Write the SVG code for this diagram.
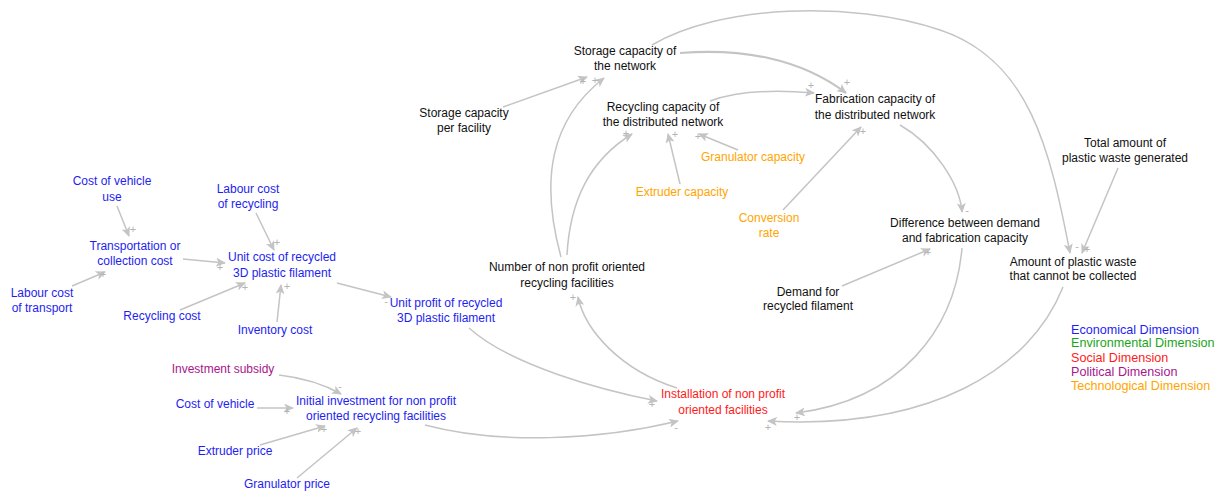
<svg xmlns="http://www.w3.org/2000/svg" width="1223" height="493" viewBox="0 0 1223 493">
<defs>
<marker id="ah" markerUnits="userSpaceOnUse" markerWidth="11" markerHeight="9" refX="9" refY="4.5" orient="auto">
<path d="M0,0 L10,4.5 L0,9 L2.5,4.5 z" fill="#c4c4c4"/>
</marker>
<style>
text{font-family:"Liberation Sans",Arial,sans-serif;font-size:12px;text-anchor:middle}
.b{fill:#1e1ef0}.k{fill:#111}.o{fill:#ffa500}.r{fill:#ff1a1a}.p{fill:#a8168c}.g{fill:#19a519}
.lg text{text-anchor:start;font-size:12.6px}
#connectors path{fill:none;stroke:#c4c4c4;stroke-width:1.5;marker-end:url(#ah)}
#signs text{fill:#b4b4b4;font-size:11px}
</style>
</defs>
<rect width="1223" height="493" fill="#fff"/>
<g id="connectors">
<path d="M117,206 L129,236"/>
<path d="M72,286 L105,272"/>
<path d="M183,259 L225,263"/>
<path d="M256,213 L274,250"/>
<path d="M180,310 L245,283"/>
<path d="M277,322 L281,285"/>
<path d="M337,283 L391,297"/>
<path d="M469,328 C510,365 600,390 657,401"/>
<path d="M279,375 C305,378 325,385 341,394"/>
<path d="M257,408 L293,408"/>
<path d="M260,445 L325,426"/>
<path d="M297,478 L357,428"/>
<path d="M425,425 C500,445 600,440 678,421"/>
<path d="M503,107 L587,77"/>
<path d="M561,257 C540,180 550,120 604,78"/>
<path d="M567,255 C570,200 590,160 632,134"/>
<path d="M680,184 L668,134"/>
<path d="M738,150 L699,134"/>
<path d="M710,101 C740,90 780,90 814,93"/>
<path d="M680,53 C740,48 800,58 846,93" style="stroke-width:2.2"/>
<path d="M652,45 C720,5 850,0 940,30 S1050,150 1070,253"/>
<path d="M1118,168 L1082,253"/>
<path d="M900,125 C935,145 960,185 962,212"/>
<path d="M783,210 L861,127"/>
<path d="M842,286 L930,249"/>
<path d="M962,248 C955,330 900,400 796,413"/>
<path d="M1063,287 C1030,370 930,430 768,421"/>
<path d="M677,388 C620,370 585,330 578,297"/>
</g>
<g id="signs">
<text x="133" y="233">+</text>
<text x="103" y="278">+</text>
<text x="220" y="271">+</text>
<text x="277" y="246">+</text>
<text x="245" y="291">+</text>
<text x="287" y="290">+</text>
<text x="386" y="305">-</text>
<text x="652" y="408">+</text>
<text x="340" y="390">-</text>
<text x="287" y="415">+</text>
<text x="324" y="433">+</text>
<text x="358" y="435">+</text>
<text x="676" y="431">-</text>
<text x="583" y="85">+</text>
<text x="595" y="84">+</text>
<text x="626" y="137">+</text>
<text x="675" y="138">+</text>
<text x="698" y="140">+</text>
<text x="811" y="89">+</text>
<text x="847" y="86">+</text>
<text x="1077" y="250">-</text>
<text x="1087" y="253">+</text>
<text x="967" y="214">-</text>
<text x="863" y="135">+</text>
<text x="928" y="256">+</text>
<text x="797" y="421">+</text>
<text x="768" y="431">+</text>
<text x="573" y="301">+</text>
</g>
<g id="n-costvehicleuse"><text class="b" x="112" y="185">Cost of vehicle</text><text class="b" x="112" y="201">use</text></g>
<g id="n-labourrecycling"><text class="b" x="248" y="193">Labour cost</text><text class="b" x="248" y="208">of recycling</text></g>
<g id="n-transport"><text class="b" x="135" y="250">Transportation or</text><text class="b" x="135" y="265">collection cost</text></g>
<g id="n-unitcost"><text class="b" x="282" y="261">Unit cost of recycled</text><text class="b" x="282" y="277">3D plastic filament</text></g>
<g id="n-labourtransport"><text class="b" x="42" y="297">Labour cost</text><text class="b" x="42" y="312">of transport</text></g>
<g id="n-recyclingcost"><text class="b" x="162" y="320">Recycling cost</text></g>
<g id="n-inventory"><text class="b" x="275" y="334">Inventory cost</text></g>
<g id="n-unitprofit"><text class="b" x="446" y="307">Unit profit of recycled</text><text class="b" x="446" y="322">3D plastic filament</text></g>
<g id="n-subsidy"><text class="p" x="223" y="373">Investment subsidy</text></g>
<g id="n-costvehicle"><text class="b" x="215" y="408">Cost of vehicle</text></g>
<g id="n-initial"><text class="b" x="376" y="405">Initial investment for non profit</text><text class="b" x="376" y="420">oriented recycling facilities</text></g>
<g id="n-extruderprice"><text class="b" x="235" y="455">Extruder price</text></g>
<g id="n-granulatorprice"><text class="b" x="287" y="488">Granulator price</text></g>
<g id="n-storagenet"><text class="k" x="625" y="55">Storage capacity of</text><text class="k" x="625" y="70">the network</text></g>
<g id="n-storagefac"><text class="k" x="464" y="117">Storage capacity</text><text class="k" x="464" y="132">per facility</text></g>
<g id="n-recyclingcap"><text class="k" x="663" y="111">Recycling capacity of</text><text class="k" x="663" y="126">the distributed network</text></g>
<g id="n-fabrication"><text class="k" x="875" y="103">Fabrication capacity of</text><text class="k" x="875" y="119">the distributed network</text></g>
<g id="n-granulatorcap"><text class="o" x="753" y="161">Granulator capacity</text></g>
<g id="n-extrudercap"><text class="o" x="682" y="196">Extruder capacity</text></g>
<g id="n-conversion"><text class="o" x="769" y="222">Conversion</text><text class="o" x="769" y="237">rate</text></g>
<g id="n-number"><text class="k" x="567" y="271">Number of non profit oriented</text><text class="k" x="567" y="287">recycling facilities</text></g>
<g id="n-difference"><text class="k" x="965" y="227">Difference between demand</text><text class="k" x="965" y="242">and fabrication capacity</text></g>
<g id="n-demand"><text class="k" x="808" y="296">Demand for</text><text class="k" x="808" y="310">recycled filament</text></g>
<g id="n-total"><text class="k" x="1125" y="147">Total amount of</text><text class="k" x="1125" y="162">plastic waste generated</text></g>
<g id="n-amount"><text class="k" x="1073" y="266">Amount of plastic waste</text><text class="k" x="1073" y="280">that cannot be collected</text></g>
<g id="n-installation"><text class="r" x="723" y="398">Installation of non profit</text><text class="r" x="723" y="414">oriented facilities</text></g>
<g id="legend" class="lg">
<text class="b" x="1071" y="334">Economical Dimension</text>
<text class="g" x="1071" y="347">Environmental Dimension</text>
<text class="r" x="1071" y="362">Social Dimension</text>
<text class="p" x="1071" y="376">Political Dimension</text>
<text class="o" x="1071" y="390">Technological Dimension</text>
</g>
</svg>
